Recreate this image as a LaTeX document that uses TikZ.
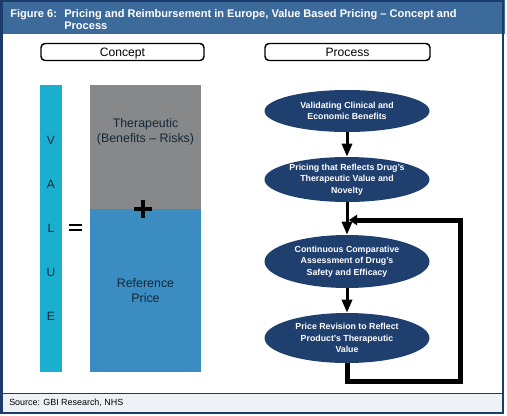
\documentclass[tikz,border=0pt]{standalone}
\usepackage{fontspec}
\setmainfont{Liberation Sans}
\usetikzlibrary{shapes.geometric, arrows.meta, positioning, calc}
\definecolor{gbinavy}{HTML}{1B3C6A}
\definecolor{gbiheader}{HTML}{3C6A9A}
\definecolor{gbifoot}{HTML}{EEF2F6}
\definecolor{gbicyan}{HTML}{1BAFCF}
\definecolor{gbigray}{HTML}{86888A}
\definecolor{gbiblue}{HTML}{3B8CC0}
\definecolor{gbistage}{HTML}{1F3F6F}
\definecolor{gbiink}{HTML}{14283A}

\tikzset{
    tab/.style={draw=black, line width=1.1pt, rounded corners=3pt, fill=white, minimum height=12.75pt, inner sep=0pt, text height=6.6pt, text depth=0pt, font=\fontsize{9.1}{11}\selectfont},
    stage/.style={ellipse, fill=gbistage, text=white, inner sep=0pt, minimum width=123.75pt, align=center, font=\fontsize{6.6}{8.6}\selectfont\bfseries},
    block/.style={inner sep=0pt, minimum width=83.25pt, text=gbiink, align=center, font=\fontsize{9.3}{11.25}\selectfont},
    letter/.style={text=gbiink, font=\fontsize{9}{10}\selectfont},
    flow/.style={line width=2.25pt, -{Triangle[length=9.75pt, width=7.5pt]}},
    feedback/.style={line width=3.75pt, line join=miter, -{Triangle[length=6pt, width=7.5pt]}},
}

\begin{document}
\begin{tikzpicture}[x=0.75pt, y=-0.75pt]
    \useasboundingbox (0,0) rectangle (507,415);

    % Frame, header and footer
    \fill[gbiheader] (0,0) rectangle (505,34);
    \fill[gbifoot] (2,393) rectangle (503,412);
    \draw[gbinavy, line width=0.75pt] (2,393) -- (503,393);
    \draw[gbinavy, line width=1.5pt] (1.5,1) rectangle (503,413);
    \node[anchor=base west, inner sep=0pt, text=white, font=\fontsize{8.3}{9.75}\selectfont\bfseries] (figno) at (10,17) {Figure 6:};
    \node[anchor=base west, inner sep=0pt, text=white, font=\fontsize{8.3}{9.75}\selectfont\bfseries] (title) at (64,17) {Pricing and Reimbursement in Europe, Value Based Pricing -- Concept and};
    \node[anchor=base west, inner sep=0pt, text=white, font=\fontsize{8.3}{9.75}\selectfont\bfseries] (title2) at (64,29) {Process};
    \node[anchor=base west, inner sep=0pt, text=black, font=\fontsize{6.7}{8}\selectfont] (source) at (9,405) {Source: GBI Research, NHS};

    % Column tabs
    \node[tab, minimum width=122.25pt] (concept) at (122.5,52) {Concept};
    \node[tab, minimum width=123.75pt] (process) at (347.5,52) {Process};

    % Concept
    \node[fill=gbicyan, inner sep=0pt, minimum width=16.5pt, minimum height=215.25pt] (valuebar) at (51,228.5) {};
    \foreach \ch [count=\i] in {V,A,L,U,E}
        \node[letter] (v\i) at (51,{140+44.2*(\i-1)}) {\ch};
    \draw[line width=1.9pt] (69,225.2) -- (82,225.2) (69,229.8) -- (82,229.8);
    \node[block, fill=gbigray, minimum height=93pt] (therap) at (145.5,147) {};
    \node[block, fill=gbiblue, minimum height=122.25pt] (refprice) at (145.5,290.5) {Reference\\Price};
    \node[block] (therapname) at (145.5,131.5) {Therapeutic\\(Benefits -- Risks)};
    \draw[line width=3pt] (134,209) -- (152,209) (143,200) -- (143,218);

    % Process
    \node[stage, minimum height=31.5pt] (validate) at (347,111) {Validating Clinical and\\Economic Benefits};
    \node[stage, minimum height=33.75pt] (pricing) at (347,179.5) {Pricing that Reflects Drug's\\Therapeutic Value and\\Novelty};
    \node[stage, minimum height=39.75pt] (assess) at (347,261.5) {Continuous Comparative\\Assessment of Drug's\\Safety and Efficacy};
    \node[stage, minimum height=37.5pt] (revise) at (347,338) {Price Revision to Reflect\\Product's Therapeutic\\Value};

    \draw[flow] (validate) -- (pricing);
    \draw[flow] (pricing) -- (assess);
    \draw[flow] (assess) -- (revise);

    \coordinate (fbtop) at (460.5,220);
    \coordinate (fbin) at (349,220);
    \draw[feedback] (revise.south) -- ++(0,18.5) -| (fbtop) -- (fbin);
\end{tikzpicture}
\end{document}
